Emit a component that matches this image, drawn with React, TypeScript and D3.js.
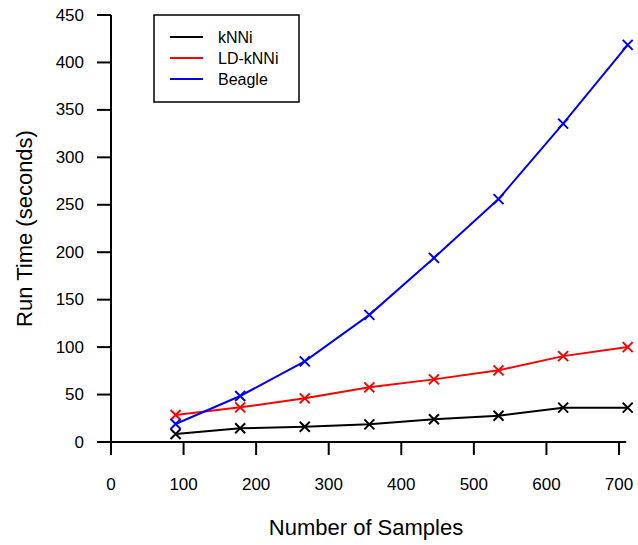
import React from "react";
import * as d3 from "d3";

const samples = [89, 178, 267, 356, 445, 534, 623, 712];
const knni = [8.5, 14.5, 16, 18.6, 23.9, 27.7, 36.2, 36.2];
const ldknni = [28.5, 36.5, 46, 57.6, 66, 75.5, 90.5, 100];
const beagle = [19, 48.5, 85, 134, 194, 256, 335.5, 418.5];
const xTicks = [0, 100, 200, 300, 400, 500, 600, 700];
const yTicks = [0, 50, 100, 150, 200, 250, 300, 350, 400, 450];
const seriesNames = ["kNNi", "LD-kNNi", "Beagle"];
const seriesColors = ["#000000", "#ff0000", "#0000ff"];

const W = 638;
const H = 545;

export default function App() {
  const x = d3.scaleLinear().domain([0, 700]).range([111, 619]);
  const y = d3.scaleLinear().domain([0, 450]).range([442, 15]);
  const series = [knni, ldknni, beagle];
  const line = d3
    .line<number>()
    .x((_, i) => x(samples[i]))
    .y((d) => y(d));
  const font = "'Liberation Sans', Arial, sans-serif";
  const m = 5;
  return (
    <svg
      width={W}
      height={H}
      style={{ position: "absolute", left: 0, top: 0, background: "#fff" }}
      fontFamily={font}
    >
      <rect x={0} y={0} width={W} height={H} fill="#fff" />
      {/* x axis baseline */}
      <line x1={x(-19)} x2={x(710)} y1={y(0)} y2={y(0)} stroke="#000" strokeWidth={2} />
      {/* y axis line */}
      <line x1={x(0)} x2={x(0)} y1={y(0)} y2={y(450)} stroke="#000" strokeWidth={2} />
      {xTicks.map((t) => (
        <g key={"xt" + t}>
          <line x1={x(t)} x2={x(t)} y1={y(0)} y2={y(0) + 13} stroke="#000" strokeWidth={2} />
          <text x={x(t)} y={y(0) + 48} textAnchor="middle" fontSize={17} fill="#000">
            {t}
          </text>
        </g>
      ))}
      {yTicks.map((t) => (
        <g key={"yt" + t}>
          <line x1={x(0) - 14} x2={x(0)} y1={y(t)} y2={y(t)} stroke="#000" strokeWidth={2} />
          <text
            x={x(0) - 27}
            y={y(t)}
            textAnchor="end"
            dominantBaseline="central"
            fontSize={17}
            fill="#000"
          >
            {t}
          </text>
        </g>
      ))}
      <text x={366} y={535} textAnchor="middle" fontSize={22} fill="#000">
        Number of Samples
      </text>
      <text
        transform={`translate(32, ${(y(0) + y(450)) / 2}) rotate(-90)`}
        textAnchor="middle"
        fontSize={22}
        fill="#000"
      >
        Run Time (seconds)
      </text>
      {series.map((s, si) => (
        <g key={"s" + si}>
          <path d={line(s) || ""} fill="none" stroke={seriesColors[si]} strokeWidth={2} />
          {s.map((v, i) => {
            const cx = x(samples[i]);
            const cy = y(v);
            return (
              <path
                key={i}
                d={`M${cx - m},${cy - m}L${cx + m},${cy + m}M${cx - m},${cy + m}L${cx + m},${cy - m}`}
                stroke={seriesColors[si]}
                strokeWidth={2}
                fill="none"
              />
            );
          })}
        </g>
      ))}
      {/* legend */}
      <rect x={154} y={15} width={145} height={87} fill="#fff" stroke="#000" strokeWidth={1.5} />
      {seriesNames.map((n, i) => (
        <g key={"lg" + i}>
          <line x1={170} x2={203} y1={37 + i * 21} y2={37 + i * 21} stroke={seriesColors[i]} strokeWidth={2} />
          <text x={218} y={37 + i * 21} dominantBaseline="central" fontSize={16} fill="#000">
            {n}
          </text>
        </g>
      ))}
    </svg>
  );
}
